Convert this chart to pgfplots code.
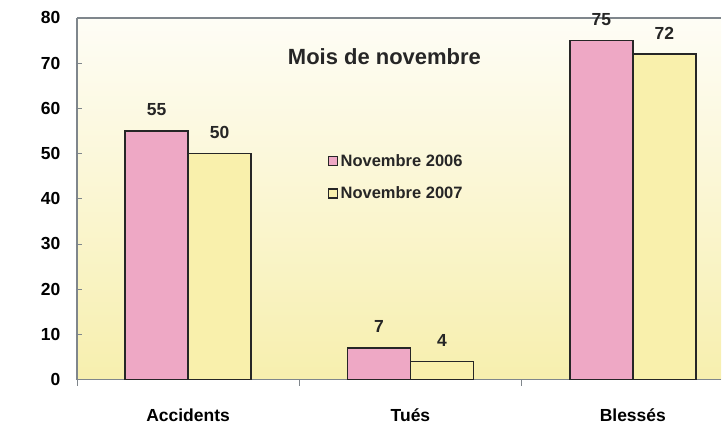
\documentclass[border=0pt]{standalone}
\usepackage{fontspec}
\setmainfont{Liberation Sans}
\usepackage{pgfplots}
\pgfplotsset{compat=1.18}

\definecolor{rose}{HTML}{EEA8C5}
\definecolor{jaune}{HTML}{F9F0AC}
\definecolor{axegris}{HTML}{7F868C}
\definecolor{fondhaut}{HTML}{FEFDF6}
\definecolor{fondbas}{HTML}{F7EFAE}

\begin{document}
\begin{tikzpicture}
\begin{axis}[
    at={(0,0)}, anchor=south west,
    scale only axis,
    width=645pt, height=362pt,
    xmin=-0.5, xmax=2.397,
    ymin=0, ymax=80,
    axis x line*=box, axis y line*=left,
    xtick pos=bottom, ytick pos=left,
    ybar=0pt,
    bar width=63pt,
    axis background/.style={top color=fondhaut, bottom color=fondbas},
    axis line style={draw=axegris, line width=1.8pt},
    tick align=outside,
    major tick length=6pt,
    xtick={-0.5,0.5,1.5},
    xticklabels={},
    x tick style={draw=axegris, line width=0.6pt},
    extra x ticks={0,1,2},
    extra x tick labels={Accidents,Tués,Blessés},
    extra x tick style={major tick length=0pt,
        tick label style={yshift=-26pt}},
    ytick={0,10,...,80},
    y tick style={draw=axegris, line width=0.6pt, xshift=5pt},
    yticklabel style={xshift=-7pt},
    tick label style={font=\bfseries\fontsize{17.5}{18}\selectfont},
    /pgf/number format/assume math mode=true,
    nodes near coords,
    every node near coord/.append style={font=\bfseries\fontsize{17.5}{18}\selectfont,
        text=black!85, yshift=11pt},
    legend image code/.code={\draw[#1, draw=black!85, line width=1.5pt]
        (0pt,-4.5pt) rectangle (9pt,4.5pt);},
    legend style={at={(axis cs:0.627,50.4)}, anchor=north west,
        draw=none, fill=none, inner sep=0pt, row sep=14pt,
        font=\bfseries\fontsize{16.5}{17}\selectfont,
        nodes={inner sep=2.5pt, text=black!85}},
    legend cell align=left,
]
\addplot[fill=rose, draw=black!85, line width=1.6pt]
    coordinates {(0,55) (1,7) (2,75)};
\addplot[fill=jaune, draw=black!85, line width=1.6pt]
    coordinates {(0,50) (1,4) (2,72)};
\legend{Novembre 2006, Novembre 2007}
\node[font=\bfseries\fontsize{22}{23}\selectfont, text=black!85]
    at (axis cs:0.883,71.4) {Mois de novembre};
\end{axis}
\path (-77pt,-46pt) rectangle (645pt,380pt);
\end{tikzpicture}
\end{document}
